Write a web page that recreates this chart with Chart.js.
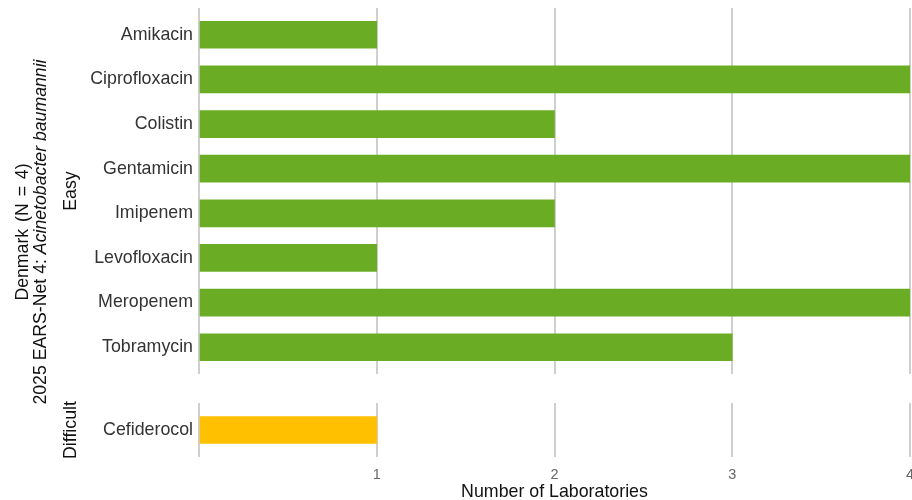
<!DOCTYPE html>
<html>
<head>
<meta charset="utf-8">
<script src="https://cdn.jsdelivr.net/npm/chart.js@4"></script>
<style>
  body { margin: 0; background: #fff; font-family: "Liberation Sans", Arial, sans-serif; }
  #wrap { position: relative; width: 912px; height: 500px; overflow: hidden; }
  canvas { position: absolute; left: 0; }
  .rot { position: absolute; transform: translate(-50%, -50%) rotate(-90deg); white-space: nowrap; text-align: center; color: #111; }
</style>
</head>
<body>
<div id="wrap">
  <canvas id="chartEasy" width="912" height="380" style="top:0"></canvas>
  <canvas id="chartDifficult" width="912" height="108" style="top:395px"></canvas>
  <div class="rot" style="left:31px; top:232px; font-size:17.7px; line-height:18px;"><span style="word-spacing:2px">Denmark (N = 4)</span><br>2025 EARS-Net 4: <i>Acinetobacter baumannii</i></div>
  <div class="rot" style="left:70px; top:191px; font-size:17.8px;">Easy</div>
  <div class="rot" style="left:70px; top:430px; font-size:17.8px;">Difficult</div>
</div>
<script>
// drugs per panel and lab counts
const easyDrugs = ["Amikacin", "Ciprofloxacin", "Colistin", "Gentamicin", "Imipenem", "Levofloxacin", "Meropenem", "Tobramycin"];
const easyCounts = [1, 4, 2, 4, 2, 1, 4, 3];
const difficultDrugs = ["Cefiderocol"];
const difficultCounts = [1];
const xTicks = [0, 1, 2, 3, 4];

const FONT = "'Liberation Sans', Arial, sans-serif";
const GRID = "#cfcfcf";

function makePanel(id, drugs, counts, color, showX) {
    const ctx = document.getElementById(id);
    return new Chart(ctx, {
        type: "bar",
        data: {
            datasets: [{
                data: drugs.map((d, i) => ({ x: counts[i], y: i + 1 })),
                backgroundColor: color,
                barThickness: 27
            }]
        },
        options: {
            indexAxis: "y",
            responsive: false,
            animation: false,
            layout: { padding: { top: 8, right: 2, bottom: showX ? 0 : 6, left: 0 } },
            plugins: { legend: { display: false }, tooltip: { enabled: false } },
            scales: {
                x: {
                    type: "linear",
                    min: 0,
                    max: 4,
                    afterBuildTicks: s => { s.ticks = xTicks.map(v => ({ value: v })); },
                    afterFit: s => {
                        s.paddingLeft = 0;
                        s.paddingRight = 0;
                        if (showX) s.height = 46;
                    },
                    grid: { color: GRID, lineWidth: 2, drawTicks: false },
                    border: { display: false },
                    ticks: {
                        display: showX,
                        padding: 9,
                        color: "#666",
                        font: { family: FONT, size: 14.5 },
                        callback: v => v === 0 ? "" : v
                    },
                    title: {
                        display: showX,
                        text: "Number of Laboratories",
                        color: "#111",
                        font: { family: FONT, size: 17.8 },
                        padding: 0
                    }
                },
                y: {
                    type: "linear",
                    reverse: true,
                    offset: false,
                    min: 0.4,
                    max: drugs.length + 0.6,
                    afterBuildTicks: s => { s.ticks = drugs.map((d, i) => ({ value: i + 1 })); },
                    afterFit: s => { s.width = 199; s.paddingTop = 0; s.paddingBottom = 0; },
                    grid: { display: false, drawTicks: false },
                    border: { display: false },
                    ticks: {
                        padding: 6,
                        color: "#333",
                        font: { family: FONT, size: 17.8 },
                        callback: v => drugs[v - 1]
                    }
                }
            }
        }
    });
}

makePanel("chartEasy", easyDrugs, easyCounts, "#6aad24", false);
makePanel("chartDifficult", difficultDrugs, difficultCounts, "#ffc000", true);
</script>
</body>
</html>
